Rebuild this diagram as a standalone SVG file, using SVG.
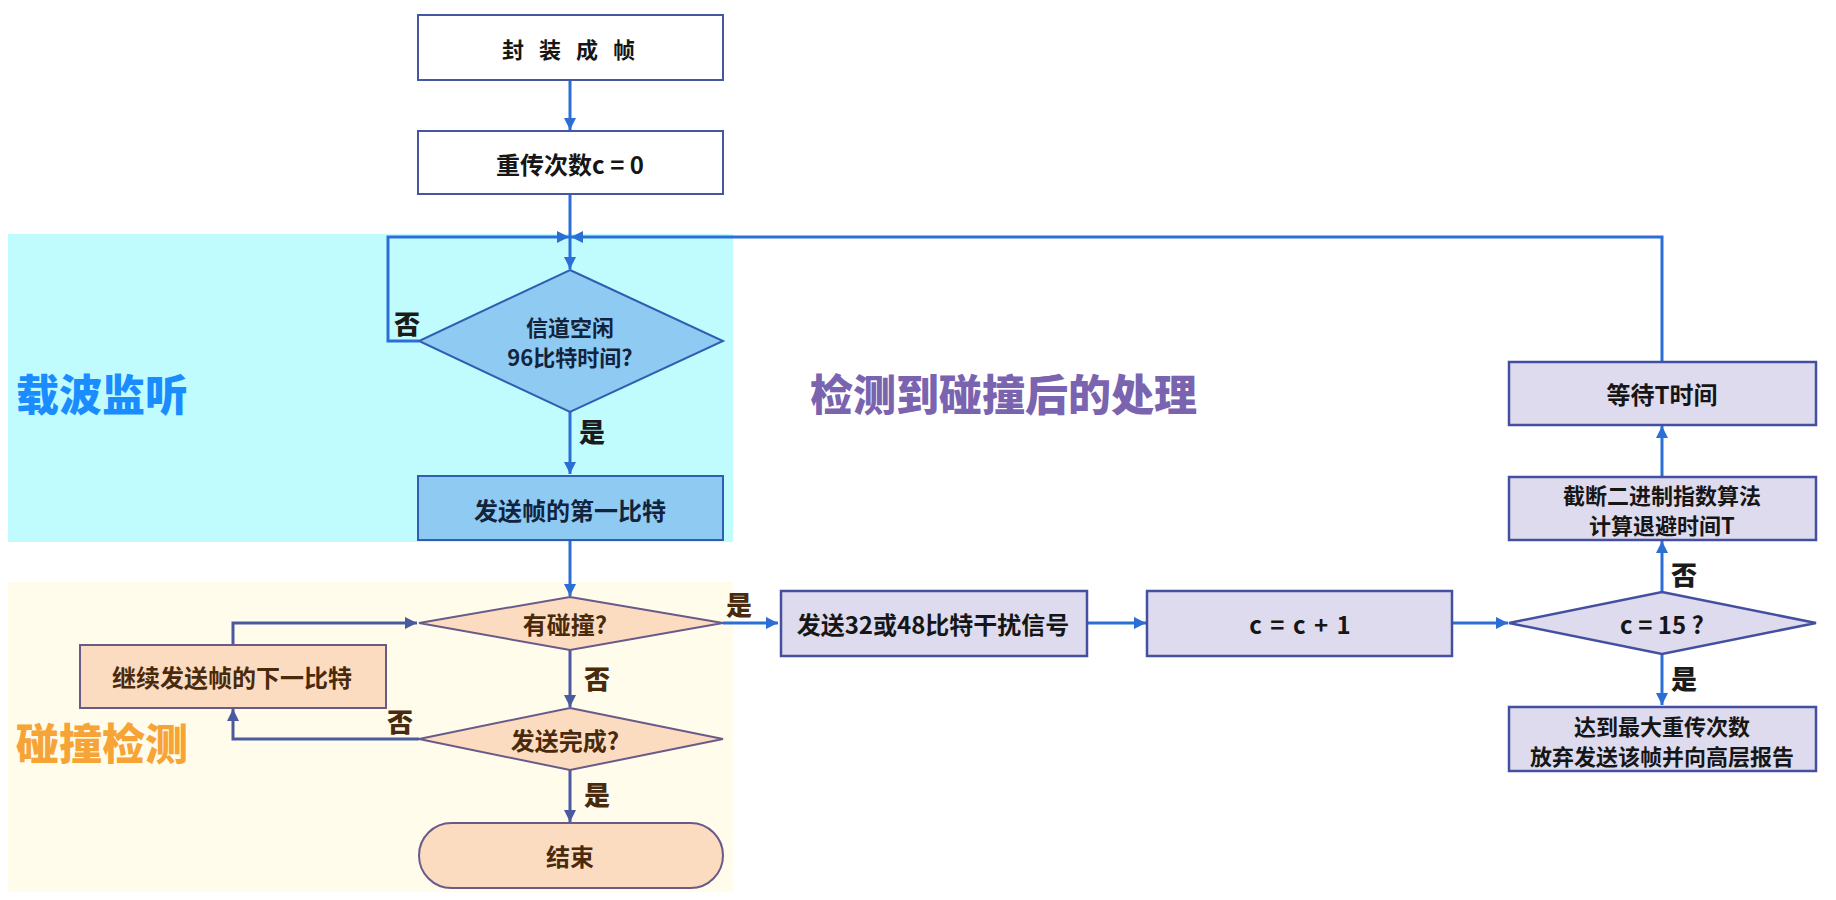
<svg xmlns="http://www.w3.org/2000/svg" width="1836" height="900" viewBox="0 0 1836 900">
<style>
.t{font-family:"Noto Sans CJK SC","Noto Sans",sans-serif;font-weight:700;font-size:24px;text-anchor:middle;dominant-baseline:central;fill:#161616}
.t2{font-size:22px}
.tb{fill:#12233d}
.to{fill:#4a2a0c}
.lbl{font-family:"Noto Sans CJK SC","Noto Sans",sans-serif;font-weight:900;font-size:26px;text-anchor:middle;dominant-baseline:central;fill:#1b1b1b}
.lo{fill:#4a2a0c}
.sec{font-family:"Noto Sans CJK SC","Noto Sans",sans-serif;font-weight:900;font-size:43px;dominant-baseline:central}
.wbox{fill:#ffffff;stroke:#4457a2;stroke-width:2}
.bnode{fill:#8fcaf2;stroke:#2f5fb0;stroke-width:2}
.onode{fill:#fcdcc0;stroke:#6a5a88;stroke-width:2}
.pnode{fill:#dedbee;stroke:#454fa0;stroke-width:2.5}
.c1{fill:none;stroke:#2b6fd6;stroke-width:3}
.c2{fill:none;stroke:#4a5a9e;stroke-width:3}
</style>
<defs>
<marker id="a1" markerUnits="userSpaceOnUse" markerWidth="14" markerHeight="12" refX="12" refY="6" orient="auto"><path d="M0,0 L12,6 L0,12 z" fill="#2b6fd6"/></marker>
<marker id="a2" markerUnits="userSpaceOnUse" markerWidth="14" markerHeight="12" refX="12" refY="6" orient="auto"><path d="M0,0 L12,6 L0,12 z" fill="#4a5a9e"/></marker>
</defs>
<rect width="1836" height="900" fill="#ffffff"/>
<g id="bg">
<rect x="8" y="234" width="725" height="308" fill="#c0fcfe"/>
<rect x="8" y="582" width="725" height="310" fill="#fffcec"/>
</g>
<g id="sections">
<text class="sec" x="16" y="392" fill="#1a8cff">载波监听</text>
<text class="sec" x="16" y="741" fill="#f7a437">碰撞检测</text>
<text class="sec" x="810" y="392" fill="#7a64b0">检测到碰撞后的处理</text>
</g>
<g id="connectors">
<line class="c1" x1="570" y1="80" x2="570" y2="130" marker-end="url(#a1)"/>
<line class="c1" x1="570" y1="194" x2="570" y2="269" marker-end="url(#a1)"/>
<polyline class="c1" points="419,341 388,341 388,237 569,237" marker-end="url(#a1)"/>
<polyline class="c1" points="1662,361 1662,237 571,237" marker-end="url(#a1)"/>
<line class="c1" x1="570" y1="412" x2="570" y2="474" marker-end="url(#a1)"/>
<line class="c1" x1="570" y1="540" x2="570" y2="596" marker-end="url(#a1)"/>
<line class="c1" x1="723" y1="623" x2="778" y2="623" marker-end="url(#a1)"/>
<line class="c2" x1="570" y1="650" x2="570" y2="707" marker-end="url(#a2)"/>
<polyline class="c2" points="419,739 233,739 233,709" marker-end="url(#a2)"/>
<polyline class="c2" points="233,645 233,623 417,623" marker-end="url(#a2)"/>
<line class="c2" x1="570" y1="770" x2="570" y2="822" marker-end="url(#a2)"/>
<line class="c1" x1="1083" y1="623" x2="1146" y2="623" marker-end="url(#a1)"/>
<line class="c1" x1="1452" y1="623" x2="1508" y2="623" marker-end="url(#a1)"/>
<line class="c1" x1="1662" y1="592" x2="1662" y2="541" marker-end="url(#a1)"/>
<line class="c1" x1="1662" y1="476" x2="1662" y2="426" marker-end="url(#a1)"/>
<line class="c1" x1="1662" y1="654" x2="1662" y2="705" marker-end="url(#a1)"/>
</g>
<g id="labels">
<text class="lbl" x="407" y="322">否</text>
<text class="lbl" x="592" y="430">是</text>
<text class="lbl lo" x="739" y="603">是</text>
<text class="lbl lo" x="597" y="677">否</text>
<text class="lbl lo" x="400" y="720">否</text>
<text class="lbl lo" x="597" y="793">是</text>
<text class="lbl" x="1684" y="573">否</text>
<text class="lbl" x="1684" y="677">是</text>
</g>
<g id="n_pack">
<rect class="wbox" x="418" y="15" width="305" height="65"/>
<text class="t" x="513 550 587 624" y="48" style="font-size:22px">封装成帧</text>
</g>
<g id="n_init">
<rect class="wbox" x="418" y="131" width="305" height="63"/>
<text class="t" x="570" y="163">重传次数c = 0</text>
</g>
<g id="n_idle">
<polygon class="bnode" points="570,270 723,341 570,412 419,341"/>
<text class="t t2 tb" x="570" y="326">信道空闲</text>
<text class="t t2 tb" x="570" y="356">96比特时间?</text>
</g>
<g id="n_first">
<rect class="bnode" x="418" y="476" width="305" height="64"/>
<text class="t tb" x="570" y="509">发送帧的第一比特</text>
</g>
<g id="n_coll">
<polygon class="onode" points="570,597 723,623 570,650 419,623"/>
<text class="t to" x="565" y="623">有碰撞?</text>
</g>
<g id="n_next">
<rect class="onode" x="80" y="645" width="306" height="63"/>
<text class="t to" x="232" y="676">继续发送帧的下一比特</text>
</g>
<g id="n_done">
<polygon class="onode" points="570,708 723,739 570,770 419,739"/>
<text class="t to" x="565" y="739">发送完成?</text>
</g>
<g id="n_end">
<rect class="onode" x="419" y="823" width="304" height="65" rx="32.5" ry="32.5"/>
<text class="t to" x="570" y="855">结束</text>
</g>
<g id="n_jam">
<rect class="pnode" x="781" y="591" width="306" height="65"/>
<text class="t" x="933" y="623">发送32或48比特干扰信号</text>
</g>
<g id="n_inc">
<rect class="pnode" x="1147" y="591" width="305" height="65"/>
<text class="t" x="1300" y="623" style="word-spacing:3px">c = c + 1</text>
</g>
<g id="n_max">
<polygon class="pnode" points="1662,592 1816,623 1662,654 1509,623"/>
<text class="t" x="1662" y="623">c = 15 ?</text>
</g>
<g id="n_backoff">
<rect class="pnode" x="1509" y="477" width="307" height="63"/>
<text class="t t2" x="1662" y="494">截断二进制指数算法</text>
<text class="t t2" x="1662" y="524">计算退避时间T</text>
</g>
<g id="n_wait">
<rect class="pnode" x="1509" y="362" width="307" height="63"/>
<text class="t" x="1662" y="393">等待T时间</text>
</g>
<g id="n_abort">
<rect class="pnode" x="1509" y="707" width="307" height="64"/>
<text class="t t2" x="1662" y="725">达到最大重传次数</text>
<text class="t t2" x="1662" y="755">放弃发送该帧并向高层报告</text>
</g>
</svg>
